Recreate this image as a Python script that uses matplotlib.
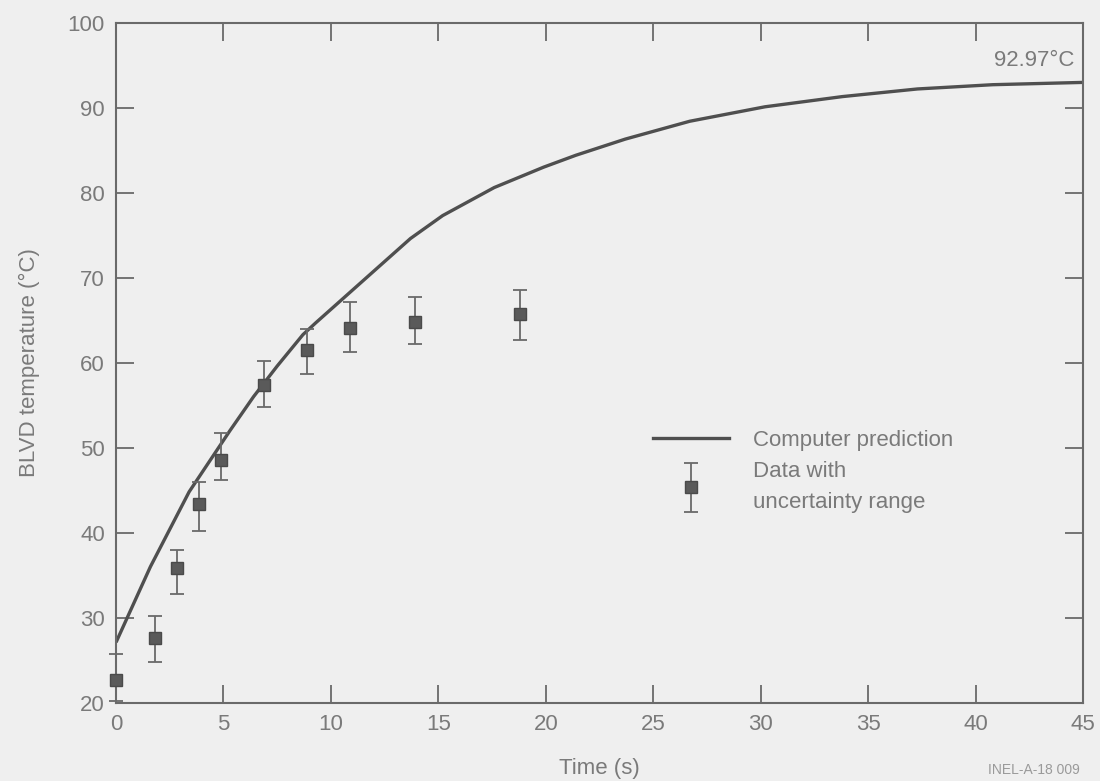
import matplotlib
matplotlib.use("Agg")
import matplotlib.pyplot as plt
from matplotlib.lines import Line2D
from matplotlib.legend_handler import HandlerErrorbar

plt.rcParams['font.family'] = ['Liberation Sans', 'DejaVu Sans']

# Computer prediction curve
pred_t = [0, 1.6, 3.4, 5.3, 6.4, 7.5, 8.7, 9.3, 12.1, 13.7, 15.2, 17.6, 19.9,
          21.4, 23.7, 26.7, 30.2, 33.8, 37.3, 40.8, 45]
pred_T = [27.1, 36.0, 44.8, 52.0, 56.0, 59.6, 63.3, 64.7, 71.0, 74.6, 77.3, 80.6, 83.0,
          84.4, 86.3, 88.4, 90.1, 91.3, 92.2, 92.7, 92.97]

# Measured data with uncertainty range
data_t = [0, 1.8, 2.85, 3.85, 4.9, 6.9, 8.9, 10.9, 13.9, 18.8]
data_T = [22.7, 27.6, 35.8, 43.4, 48.6, 57.4, 61.5, 64.1, 64.8, 65.7]
data_hi = [25.7, 30.2, 38.0, 46.0, 51.7, 60.2, 64.0, 67.1, 67.7, 68.6]
data_lo = [20.2, 24.8, 32.8, 40.2, 46.2, 54.8, 58.7, 61.2, 62.2, 62.7]

xticks = [0, 5, 10, 15, 20, 25, 30, 35, 40, 45]
yticks = [20, 30, 40, 50, 60, 70, 80, 90, 100]

bg = "#efefef"
txt = "#7a7a7a"
ink = "#555555"

fig = plt.figure(figsize=(11, 7.81), dpi=100, facecolor=bg)
ax = fig.add_axes([0.1055, 0.1003, 0.879, 0.8707], facecolor=bg)

ax.plot(pred_t, pred_T, color="#4f4f4f", lw=2.4, solid_capstyle="butt")

yerr = [[d - l for d, l in zip(data_T, data_lo)], [h - d for d, h in zip(data_T, data_hi)]]
h_err = ax.errorbar(data_t, data_T, yerr=yerr, fmt="s", color=ink, ms=9, mfc="#5a5a5a",
                    mec="#4a4a4a", ecolor="#6a6a6a", elinewidth=1.3, capsize=5, capthick=1.3,
                    clip_on=False, zorder=3)

ax.set_xlim(0, 45)
ax.set_ylim(20, 100)
ax.set_xticks(xticks)
ax.set_yticks(yticks)
ax.tick_params(direction="in", length=13, width=1.3, color="#6a6a6a",
               labelsize=16, labelcolor=txt, top=True, right=True, pad=8)
for s in ax.spines.values():
    s.set_color("#6a6a6a")
    s.set_linewidth(1.5)

ax.set_xlabel("Time (s)", fontsize=16, color=txt, labelpad=17)
ax.set_ylabel("BLVD temperature (°C)", fontsize=16, color=txt, labelpad=20)

ax.text(44.6, 95.6, "92.97°C", fontsize=16, color=txt, ha="right", va="center")

h_line = Line2D([], [], color="#4f4f4f", lw=2.4)
leg = ax.legend([h_line, h_err], ["Computer prediction", "Data with\nuncertainty range"],
                loc="upper left", bbox_to_anchor=(0.535, 0.43), frameon=False,
                fontsize=16, handlelength=3.4, handletextpad=1.1, labelspacing=0.45,
                labelcolor=txt,
                handler_map={type(h_err): HandlerErrorbar(xerr_size=0.5, yerr_size=1.1)})
for t in leg.get_texts():
    t.set_linespacing(1.6)

fig.text(0.94, 0.005, "INEL-A-18 009", fontsize=10, color="#9a9a9a", ha="center", va="bottom")

fig.savefig("out.png", dpi=100, facecolor=bg)
